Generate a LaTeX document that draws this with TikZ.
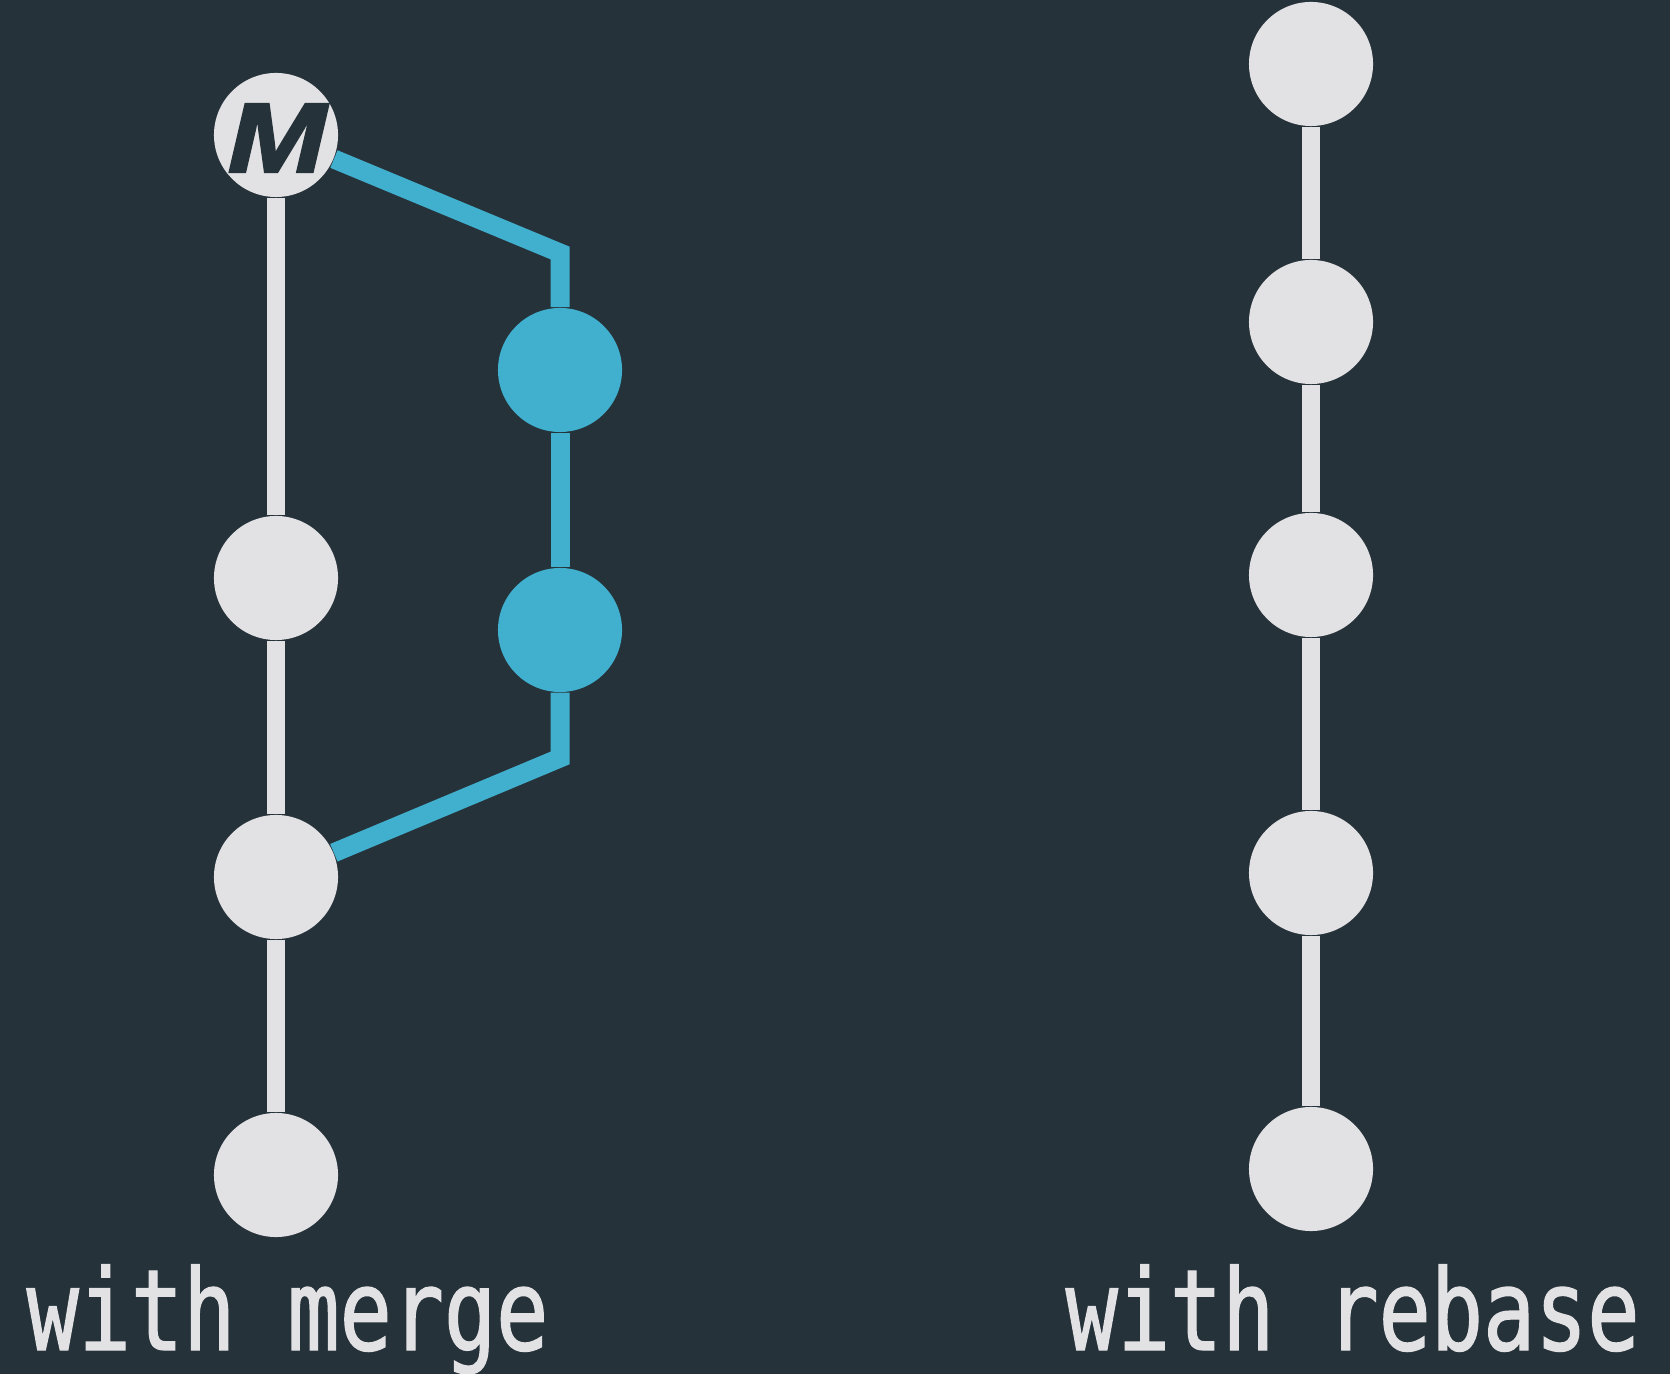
\documentclass[tikz,border=0pt]{standalone}
\usepackage{xcolor}
\usepackage{fontspec}
\usepackage{tikz}
\newfontfamily\labelfont[FakeStretch=0.77,FakeBold=1.2]{DejaVu Sans Mono}
\newfontfamily\mergefont[FakeStretch=1.2,FakeBold=2.5]{Liberation Sans Bold Italic}
\definecolor{slate}{RGB}{38,50,58}
\definecolor{commit}{RGB}{226,225,227}
\definecolor{branch}{RGB}{64,176,206}

\begin{document}
\begin{tikzpicture}[x=0.01cm,y=-0.01cm,
	dot/.style={circle,fill=commit,minimum size=1.24cm,inner sep=0pt},
	bdot/.style={dot,fill=branch},
	trunk/.style={draw=commit,line width=0.18cm},
	side/.style={draw=branch,line width=0.19cm,line join=miter},
	caption/.style={anchor=base west,inner sep=0pt,text=commit,font=\labelfont\fontsize{32}{32}\selectfont}]
	\fill[slate] (0,0) rectangle (1670,1374);
	\useasboundingbox (0,0) rectangle (1670,1374);
	
	% with merge
	\node[dot] (M) at (276,135) {};
	\node[dot] (m3) at (276,578) {};
	\node[dot] (m2) at (276,877) {};
	\node[dot] (m1) at (276,1175) {};
	\node[bdot] (f2) at (560,370) {};
	\node[bdot] (f1) at (560,630) {};
	\node[text=slate,inner sep=0pt,font=\mergefont\fontsize{28}{28}\selectfont] (Mlbl) at (277,138) {M};
	\coordinate (ftop) at (560,253);
	\coordinate (fbot) at (560,758);
	
	\draw [trunk] (m1) -- (m2);
	\draw [trunk] (m2) -- (m3);
	\draw [trunk] (m3) -- (M);
	\draw [side] (M) -- (ftop) -- (f2);
	\draw [side] (f2) -- (f1);
	\draw [side] (f1) -- (fbot) -- (m2);
	
	% with rebase
	\node[dot] (r1) at (1311,1169) {};
	\node[dot] (r2) at (1311,873) {};
	\node[dot] (r3) at (1311,575) {};
	\node[dot] (r4) at (1311,322) {};
	\node[dot] (r5) at (1311,64) {};
	
	\draw [trunk] (r1) -- (r2);
	\draw [trunk] (r2) -- (r3);
	\draw [trunk] (r3) -- (r4);
	\draw [trunk] (r4) -- (r5);
	
	\node[caption] (mergelbl) at (26,1350) {with merge};
	\node[caption] (rebaselbl) at (1065,1350) {with rebase};
	
\end{tikzpicture}
\end{document}
